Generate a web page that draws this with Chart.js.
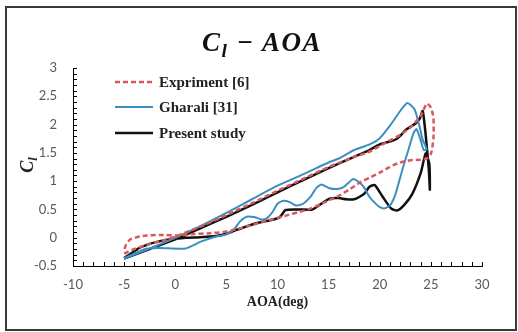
<!DOCTYPE html>
<html lang="en">
<head>
    <meta charset="UTF-8">
    <title>Cl - AOA</title>
    <script src="https://cdn.jsdelivr.net/npm/chart.js"></script>
    <style>
        body { margin: 0; background: #fff; }
        .wrap { position: relative; width: 518px; height: 332px; }
        .frame { position: absolute; left: 5px; top: 6px; width: 512px; height: 325px;
                 box-sizing: border-box; border: 2px solid #3a3a3a; pointer-events: none; }
        .title { position: absolute; left: 262px; top: 29px; transform: translateX(-50%);
                 font: italic bold 27px "Liberation Serif", serif; letter-spacing: 1.5px;
                 color: #111; white-space: nowrap; line-height: 1; }
        .title sub, .ytitle sub { font-size: 72%; vertical-align: -0.3em; }
        .ytitle { position: absolute; left: 29px; top: 165px; transform: translate(-50%, -50%) rotate(-90deg);
                  font: italic bold 18px "Liberation Serif", serif; color: #222; line-height: 1; white-space: nowrap; }
    </style>
</head>
<body>
<div class="wrap">
    <canvas id="clChart" width="518" height="332"></canvas>
    <div class="title">C<sub>l</sub> &minus; AOA</div>
    <div class="ytitle">C<sub>l</sub></div>
    <div class="frame"></div>
</div>

<script>
    // Experiment [6]
    const expAoa = [-5, -4, -2.5, -1, 0, 2.5, 5, 7.5, 10, 12.5, 15, 17.5, 19, 20, 21, 22, 23, 24, 24.6, 25, 25.25, 25.25, 25, 24.6,
        24, 23, 22, 21.3, 20, 19, 18.1, 17, 16, 15, 14.2, 13, 12, 11, 10.2, 9, 8, 7, 6, 4.7, 3.4, 1.5, 0.2, -1.5, -3.2, -4.4, -4.8, -5];
    const expCl = [-0.28, -0.2, -0.11, -0.04, 0.02, 0.2, 0.4, 0.61, 0.83, 1.04, 1.25, 1.43, 1.52, 1.62, 1.72, 1.82, 1.95, 2.15, 2.37, 2.3, 2.12, 1.75, 1.48, 1.4,
        1.38, 1.37, 1.33, 1.28, 1.15, 1.06, 0.98, 0.85, 0.74, 0.66, 0.59, 0.5, 0.45, 0.4, 0.36, 0.3, 0.25, 0.2, 0.15, 0.1, 0.08, 0.06, 0.04, 0.05, 0.03, -0.03, -0.12, -0.22];

    // Gharali [31]
    const ghaAoa = [-5, -2.5, 0, 2.5, 5, 7.5, 10, 12.5, 15, 16, 17.5, 19, 20, 21, 22, 22.7, 23.4, 23.9, 24.2, 24.6, 24.3, 24, 23.6, 23.3,
        22.8, 22.3, 21.9, 21.5, 21, 20.5, 20, 19.5, 19, 18.5, 18, 17.4, 17, 16.5, 15.8, 15, 14.3, 13.8, 13.3, 12.5, 11.8, 11.2, 10.5, 10,
        9.5, 9, 8.5, 7.8, 7, 6.3, 5.8, 5, 4, 2.5, 1, -1.5, -2.8, -4, -5];
    const ghaCl = [-0.37, -0.19, 0.0, 0.21, 0.44, 0.68, 0.92, 1.12, 1.33, 1.4, 1.55, 1.65, 1.76, 1.98, 2.24, 2.38, 2.27, 1.96, 1.73, 1.56, 1.55, 1.72, 1.92, 1.85,
        1.55, 1.26, 1.0, 0.75, 0.57, 0.52, 0.54, 0.62, 0.72, 0.88, 0.98, 1.04, 0.98, 0.9, 0.86, 0.88, 0.94, 0.88, 0.74, 0.6, 0.57, 0.63, 0.65, 0.6,
        0.45, 0.35, 0.32, 0.36, 0.37, 0.28, 0.16, 0.06, 0.02, -0.07, -0.19, -0.18, -0.19, -0.28, -0.36];

    // Present study
    const presAoa = [-5, -2.5, 0, 2.5, 5, 7.5, 10, 12.5, 15, 17.5, 19, 20, 21, 21.6, 22, 22.5, 23, 23.5, 23.9, 24.2, 24.5, 24.8, 24.9, 24.85,
        24.5, 24, 23.2, 22.4, 21.7, 21.1, 20.3, 19.5, 19, 18.5, 18, 17.5, 16.7, 16, 15.1, 14.1, 13.4, 12.1, 10.8, 10.2, 9.3, 8, 7, 6, 5, 4,
        2.5, 1, 0, -1.5, -2.5, -3.5, -4.5, -5];
    const presCl = [-0.37, -0.2, -0.03, 0.17, 0.37, 0.58, 0.8, 1.02, 1.23, 1.43, 1.55, 1.65, 1.7, 1.74, 1.8, 1.9, 1.96, 2.02, 2.1, 2.24, 1.8, 1.2, 0.85, 1.3,
        1.49, 1.14, 0.78, 0.58, 0.48, 0.52, 0.72, 0.93, 0.9, 0.78, 0.72, 0.68, 0.68, 0.7, 0.69, 0.58, 0.5, 0.5, 0.49, 0.36, 0.31, 0.26, 0.2, 0.14, 0.07, 0.03,
        0.01, 0.0, -0.02, -0.06, -0.11, -0.18, -0.3, -0.36];

    const seriesNames = ['Expriment [6]', 'Gharali [31]', 'Present study'];
    const xTicks = [-10, -5, 0, 5, 10, 15, 20, 25, 30];
    const yTicks = [-0.5, 0, 0.5, 1, 1.5, 2, 2.5, 3];

    const toPoints = (xs, ys) => xs.map((x, i) => ({ x: x, y: ys[i] }));

    // small inward ticks on both axes (x every 1 deg, y every 0.1)
    const minorTicks = {
        id: 'minorTicks',
        afterDraw(chart) {
            const ctx = chart.ctx, xs = chart.scales.x, ys = chart.scales.y;
            const a = chart.chartArea;
            ctx.save();
            ctx.strokeStyle = '#000';
            ctx.lineWidth = 1;
            ctx.beginPath();
            for (let v = xTicks[0]; v <= xTicks[xTicks.length - 1]; v++) {
                const px = Math.round(xs.getPixelForValue(v)) + 0.5;
                ctx.moveTo(px, a.bottom);
                ctx.lineTo(px, a.bottom - 4);
            }
            for (let k = 0; k <= 35; k++) {
                const py = Math.round(ys.getPixelForValue(yTicks[0] + k * 0.1)) + 0.5;
                ctx.moveTo(a.left, py);
                ctx.lineTo(a.left + 4, py);
            }
            ctx.stroke();
            ctx.restore();
        }
    };

    // legend in the upper left corner of the plot
    const innerLegend = {
        id: 'innerLegend',
        afterDraw(chart) {
            const ctx = chart.ctx;
            const rows = [82, 107, 133];
            ctx.save();
            chart.data.datasets.forEach((ds, i) => {
                ctx.beginPath();
                ctx.strokeStyle = ds.borderColor;
                ctx.lineWidth = ds.borderWidth;
                ctx.setLineDash(ds.borderDash || []);
                ctx.moveTo(115, rows[i]);
                ctx.lineTo(153, rows[i]);
                ctx.stroke();
                ctx.setLineDash([]);
                ctx.fillStyle = '#222';
                ctx.font = 'bold 15px "Liberation Serif", serif';
                ctx.textBaseline = 'middle';
                ctx.fillText(ds.label, 159, rows[i] + 1);
            });
            ctx.restore();
        }
    };

    const ctx = document.getElementById('clChart').getContext('2d');
    new Chart(ctx, {
        type: 'scatter',
        data: {
            datasets: [{
                label: seriesNames[0],
                data: toPoints(expAoa, expCl),
                showLine: true,
                borderColor: '#d9585a',
                borderWidth: 2.5,
                borderDash: [5, 3],
                pointRadius: 0,
                tension: 0.2
            }, {
                label: seriesNames[1],
                data: toPoints(ghaAoa, ghaCl),
                showLine: true,
                borderColor: '#3b8fc0',
                borderWidth: 2,
                pointRadius: 0,
                tension: 0.2
            }, {
                label: seriesNames[2],
                data: toPoints(presAoa, presCl),
                showLine: true,
                borderColor: '#111111',
                borderWidth: 2.5,
                pointRadius: 0,
                tension: 0.2
            }]
        },
        options: {
            responsive: false,
            animation: false,
            layout: { padding: { top: 68, right: 36, left: 0, bottom: 0 } },
            plugins: {
                legend: { display: false },
                tooltip: { enabled: false }
            },
            scales: {
                x: {
                    type: 'linear',
                    min: xTicks[0],
                    max: xTicks[xTicks.length - 1],
                    afterBuildTicks: (s) => { s.ticks = xTicks.map(v => ({ value: v })); },
                    afterFit: (s) => { s.height = 66; },
                    grid: { display: false, drawTicks: false },
                    border: { display: true, color: '#000', width: 1 },
                    ticks: { color: '#595959', font: { family: 'Lato', size: 13 }, padding: 11, maxRotation: 0,
                             callback: (v) => String(v) },
                    title: {
                        display: true,
                        text: 'AOA(deg)',
                        color: '#222',
                        font: { family: '"Liberation Serif"', size: 14, weight: 'bold' },
                        padding: { top: 0, bottom: 21 }
                    }
                },
                y: {
                    type: 'linear',
                    min: yTicks[0],
                    max: yTicks[yTicks.length - 1],
                    afterBuildTicks: (s) => { s.ticks = yTicks.map(v => ({ value: v })); },
                    afterFit: (s) => { s.width = 73; },
                    grid: { display: false, drawTicks: false },
                    border: { display: true, color: '#000', width: 1 },
                    ticks: { color: '#595959', font: { family: 'Lato', size: 13 }, padding: 16,
                             callback: (v) => String(v) }
                }
            }
        },
        plugins: [minorTicks, innerLegend]
    });
</script>
</body>
</html>
